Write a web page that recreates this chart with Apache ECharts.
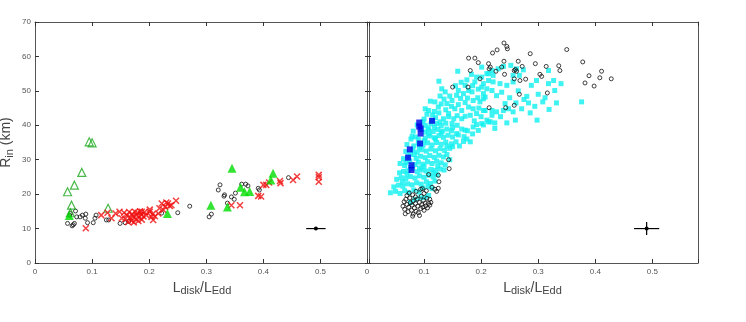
<!DOCTYPE html>
<html>
<head>
<meta charset="utf-8">
<script src="https://cdn.jsdelivr.net/npm/echarts@6/dist/echarts.min.js"></script>
<style>
  html, body { margin: 0; padding: 0; background: #fff; }
  #chart { width: 746px; height: 322px; }
</style>
</head>
<body>
<div id="chart"></div>
<script>
// x ticks / y ticks
var xTicks = [0, 0.1, 0.2, 0.3, 0.4, 0.5];
var yTicks = [0, 10, 20, 30, 40, 50, 60, 70];

// ---- left panel ----
var leftCircles = [
  [0.057,11.5],[0.061,13.9],[0.062,14.4],[0.065,10.8],[0.067,11.1],[0.069,11.5],[0.071,15.1],
  [0.073,13.4],[0.079,13.4],[0.083,13.9],[0.088,13.0],[0.089,14.2],[0.092,11.7],[0.102,11.7],
  [0.105,13.0],[0.107,13.9],[0.125,12.5],[0.129,12.5],[0.149,11.5],[0.158,11.7],[0.164,12.1],
  [0.222,14.5],[0.25,14.6],[0.271,16.5],[0.305,13.4],[0.309,14.2],[0.321,21.2],[0.324,22.7],
  [0.331,19.4],[0.332,19.8],[0.337,17.4],[0.344,19.2],[0.349,18.5],[0.351,20.3],[0.362,22.9],
  [0.369,22.9],[0.373,22.4],[0.391,21.7],[0.393,21.2],[0.444,24.8]
];
var leftCrosses = [
  [0.089,10.1],[0.116,13.9],[0.127,14.6],[0.134,13.0],[0.141,14.4],[0.148,14.9],[0.152,13.0],
  [0.156,14.6],[0.158,12.8],[0.161,13.9],[0.163,11.9],[0.165,14.8],[0.167,13.2],[0.169,12.3],
  [0.17,14.2],[0.172,13.6],[0.173,11.8],[0.175,14.9],[0.176,12.7],[0.178,13.9],[0.18,14.6],
  [0.181,12.2],[0.183,13.3],[0.184,15.0],[0.186,14.1],[0.187,12.6],[0.19,13.5],[0.192,14.8],
  [0.195,13.9],[0.187,14.9],[0.201,14.9],[0.201,15.5],[0.204,13.4],[0.207,12.5],[0.206,14.2],
  [0.21,13.6],[0.216,14.4],[0.218,15.9],[0.222,17.3],[0.225,15.4],[0.228,16.3],[0.23,17.6],
  [0.233,17.3],[0.236,16.6],[0.239,16.8],[0.247,18.1],
  [0.344,16.8],[0.359,16.8],[0.391,19.5],[0.396,19.3],[0.4,22.7],[0.405,22.7],[0.41,23.4],
  [0.429,23.8],[0.43,23.2],[0.452,24.1],[0.459,25.1],[0.497,25.6],[0.497,24.9],[0.497,23.6]
];
var leftOpenTri = [
  [0.057,20.7],[0.069,22.6],[0.082,26.3],[0.095,35.2],[0.1,34.9],[0.064,16.8],[0.128,15.9],[0.062,14.6]
];
var leftFilledTri = [
  [0.06,13.8],[0.232,14.4],[0.308,16.8],[0.337,16.3],[0.345,27.5],[0.36,22.0],[0.367,20.7],
  [0.376,20.8],[0.413,24.1],[0.417,26.1]
];
// [x, y, xerr, yerr]
var leftErr = [[0.492, 10, 0.017, 0.3]];

// ---- right panel ----
var rightCircles = [
  [0.24,63.9],[0.245,62.9],[0.246,62.2],[0.228,61.9],[0.22,61.0],[0.35,62.0],[0.286,60.8],
  [0.178,59.5],[0.189,59.5],[0.195,58.2],[0.213,57.9],[0.24,58.6],[0.265,58.6],[0.295,57.9],
  [0.314,57.1],[0.336,57.3],[0.338,55.9],[0.378,58.4],[0.411,55.7],[0.428,53.5],[0.389,54.4],
  [0.408,53.8],[0.382,52.3],[0.398,51.4],[0.181,55.9],[0.214,56.4],[0.216,56.9],[0.226,55.7],
  [0.236,56.9],[0.258,55.9],[0.262,55.7],[0.26,56.2],[0.272,57.1],[0.303,54.8],[0.306,54.2],
  [0.198,53.5],[0.241,54.8],[0.258,53.5],[0.268,53.0],[0.278,53.4],[0.15,51.1],[0.177,51.1],
  [0.267,49.0],[0.316,49.4],[0.214,45.1],[0.243,45.1],[0.258,45.8],[0.143,30.0],[0.144,27.4],
  [0.125,25.5],[0.108,25.7],[0.119,21.4],[0.125,21.7],[0.114,22.0],[0.094,21.4],[0.126,23.6],
  [0.122,20.8],
  [0.063,16.5],[0.065,17.8],[0.066,15.6],[0.068,18.5],[0.07,17.0],[0.072,14.9],[0.073,16.2],
  [0.075,18.9],[0.076,17.5],[0.078,15.3],[0.079,16.8],[0.081,14.2],[0.081,18.0],[0.083,16.0],
  [0.085,17.3],[0.086,15.0],[0.088,18.6],[0.089,16.5],[0.09,14.6],[0.092,17.6],[0.094,15.8],
  [0.095,19.4],[0.096,17.0],[0.098,16.2],[0.099,18.2],[0.1,15.3],[0.102,17.4],[0.103,16.6],
  [0.105,18.8],[0.106,16.0],[0.108,17.3],[0.11,16.8],[0.112,17.6],[0.07,19.6],[0.074,20.3],
  [0.08,19.8],[0.086,20.8],[0.1,20.2],[0.104,21.0],[0.092,13.8],[0.08,13.6],[0.067,14.3],
  [0.11,18.5],[0.097,21.6],[0.085,19.2]
];
var rightCyan = [
  [0.076,17.6],[0.084,18.4],[0.093,18.9],[0.101,19.0],[0.108,19.6],[0.041,20.4],[0.05,20.8],
  [0.058,20.2],[0.066,21.0],[0.073,20.5],[0.082,21.2],[0.091,20.6],[0.098,21.8],[0.107,22.2],
  [0.114,21.6],[0.047,22.1],[0.055,22.6],[0.063,22.3],[0.071,23.0],[0.079,22.7],[0.087,23.3],
  [0.095,22.9],[0.104,23.6],[0.111,23.1],[0.119,23.8],
  [0.052,24.3],[0.06,24.8],[0.068,24.5],[0.076,25.1],[0.084,24.7],[0.092,25.3],[0.1,24.9],
  [0.108,25.5],[0.116,25.0],[0.123,25.6],[0.057,26.2],[0.064,26.6],[0.072,26.8],[0.088,26.5],
  [0.096,27.0],[0.104,26.7],[0.112,27.2],[0.12,26.9],[0.128,27.3],
  [0.058,28.9],[0.066,28.3],[0.084,28.6],[0.09,29.3],[0.098,28.7],[0.106,29.4],[0.114,28.9],
  [0.122,29.6],[0.13,29.1],[0.137,28.5],[0.064,30.3],[0.072,30.9],[0.086,30.4],[0.094,31.0],
  [0.102,30.6],[0.11,31.2],[0.118,30.7],[0.126,31.3],[0.134,30.8],
  [0.068,32.4],[0.08,32.8],[0.088,32.2],[0.096,32.9],[0.104,32.5],[0.112,33.1],[0.12,32.6],
  [0.128,33.2],[0.136,32.7],[0.145,33.3],[0.07,34.4],[0.082,34.0],[0.09,34.8],[0.098,34.2],
  [0.106,34.9],[0.114,34.3],[0.122,35.0],[0.13,34.5],[0.138,35.1],[0.148,34.6],[0.156,35.2],
  [0.077,36.0],[0.085,36.6],[0.102,36.3],[0.11,36.9],[0.118,36.4],[0.126,37.0],[0.134,36.5],
  [0.142,37.1],[0.15,36.6],[0.16,37.2],[0.17,36.7],[0.181,35.2],[0.169,35.3],
  [0.081,38.3],[0.079,36.8],[0.102,38.0],[0.108,38.7],[0.116,38.2],[0.124,38.8],[0.132,38.3],
  [0.14,38.9],[0.148,38.4],[0.157,37.6],[0.166,38.9],[0.176,38.4],[0.186,39.5],[0.088,40.1],
  [0.102,40.0],[0.112,40.4],[0.122,40.5],[0.13,39.9],[0.138,40.6],[0.149,40.5],[0.158,40.0],
  [0.172,38.6],[0.192,40.2],[0.201,40.5],[0.204,40.1],
  [0.1,41.8],[0.114,41.4],[0.12,42.2],[0.134,41.9],[0.143,42.5],[0.152,41.9],[0.166,41.9],
  [0.181,42.9],[0.192,43.4],[0.213,41.0],[0.21,41.5],[0.216,41.0],[0.224,40.7],[0.245,40.7],
  [0.224,39.1],[0.105,43.2],[0.126,43.6],[0.143,43.4],[0.207,44.3],[0.219,42.9],[0.172,42.6],
  [0.102,44.8],[0.108,44.3],[0.125,45.3],[0.14,46.3],[0.149,47.2],[0.154,44.8],[0.166,44.3],
  [0.178,45.3],[0.186,47.2],[0.198,46.8],[0.119,46.8],[0.111,47.0],[0.204,44.3],[0.219,44.3],
  [0.227,43.9],[0.239,44.3],[0.256,43.9],[0.248,44.8],[0.242,46.3],[0.261,46.5],[0.271,44.8],
  [0.286,43.6],[0.298,41.5],[0.294,45.5],[0.319,44.6],[0.283,46.5],[0.308,46.8],[0.332,46.5],
  [0.376,46.8],[0.16,46.0],[0.13,46.2],[0.172,46.6],
  [0.157,48.7],[0.207,48.2],[0.137,49.7],[0.131,50.6],[0.16,50.1],[0.169,49.2],[0.178,50.1],
  [0.184,49.7],[0.172,51.6],[0.201,51.1],[0.189,52.6],[0.204,52.1],[0.21,50.6],[0.219,50.1],
  [0.204,49.2],[0.204,47.7],[0.28,48.4],[0.329,50.1],[0.221,52.6],[0.233,52.1],[0.245,51.6],
  [0.256,52.6],[0.288,51.6],[0.297,53.0],[0.318,52.1],[0.327,53.0],[0.34,52.1],[0.126,52.8],
  [0.145,48.5],[0.194,48.0],
  [0.159,55.7],[0.192,54.0],[0.21,55.0],[0.213,53.0],[0.219,55.9],[0.201,56.9],[0.201,54.0],
  [0.213,55.0],[0.221,54.5],[0.23,56.4],[0.239,57.1],[0.252,57.4],[0.256,54.5],[0.262,56.4],
  [0.274,56.1],[0.267,54.5],[0.318,55.9],[0.175,53.2],
  [0.062,23.5],[0.07,25.8],[0.08,27.5],[0.075,29.6],[0.083,31.5],[0.092,33.5],[0.1,35.5],
  [0.108,37.5],[0.118,39.5],[0.128,41.0],[0.138,44.5],[0.118,44.0],[0.128,48.5],[0.148,45.5],
  [0.158,42.8],[0.164,47.8],[0.176,47.9],[0.186,44.8],[0.196,45.0],[0.188,41.3],[0.2,42.5],
  [0.13,37.8],[0.15,39.3],[0.12,36.0],[0.14,34.0],[0.124,28.2],[0.116,26.2],[0.1,28.0],
  [0.092,27.6],[0.076,27.8],[0.068,29.2],[0.076,31.6],[0.09,36.0],[0.096,38.8],[0.107,39.2],
  [0.098,41.0],[0.115,43.0],[0.135,47.6],[0.155,51.5],[0.165,52.5],[0.185,51.5],[0.195,50.5],
  [0.183,54.8],[0.227,48.6],[0.236,49.6],[0.25,48.0],[0.265,50.0],[0.3,49.0],[0.312,48.0],
  [0.135,27.0],[0.14,31.5],[0.145,30.0],[0.15,33.8],[0.162,34.0],[0.175,36.0],[0.185,37.5],
  [0.195,38.5],[0.234,42.5],[0.26,41.5],[0.275,47.5]
];
var rightBlue = [
  [0.0915,40.8],[0.0915,39.6],[0.094,39.1],[0.114,41.3],[0.094,37.6],[0.093,34.7],
  [0.075,33.0],[0.072,30.6],[0.078,28.4],[0.078,27.0]
];
var rightErr = [[0.49, 10, 0.022, 1.9]];

var axisColor = '#555';
var crossPath = 'path://M0,0L10,10M10,0L0,10';

function xLabel(v) {
  var t = v * 10;
  return Math.abs(t - Math.round(t)) < 1e-6 ? String(Math.round(t) / 10) : '';
}

var xName = {
  name: '{m|L}{s|disk}{m|/L}{s|Edd}',
  nameLocation: 'middle',
  nameGap: 10,
  nameTextStyle: {
    rich: {
      m: { fontSize: 14, color: '#444', fontFamily: 'Liberation Sans', lineHeight: 18 },
      s: { fontSize: 11, color: '#444', fontFamily: 'Liberation Sans', lineHeight: 10, verticalAlign: 'bottom' }
    }
  }
};

function bottomX(gi, max) {
  return Object.assign({
    type: 'value', gridIndex: gi, min: 0, max: max, interval: 0.1, position: 'bottom',
    axisLine: { show: true, onZero: false, lineStyle: { color: axisColor, width: 1 } },
    axisTick: { show: true, inside: true, length: 4, lineStyle: { color: '#333' } },
    axisLabel: { color: '#555', fontSize: 8, margin: 5, fontFamily: 'Liberation Sans', formatter: xLabel },
    splitLine: { show: false }
  }, xName);
}
function topX(gi, max) {
  return {
    type: 'value', gridIndex: gi, min: 0, max: max, interval: 0.1, position: 'top',
    axisLine: { show: true, onZero: false, lineStyle: { color: axisColor, width: 1 } },
    axisTick: { show: true, inside: true, length: 4, lineStyle: { color: '#333' } },
    axisLabel: { show: false },
    splitLine: { show: false }
  };
}
function sideY(gi, pos, ticks, labels) {
  return {
    type: 'value', gridIndex: gi, min: 0, max: 70, interval: 10, position: pos,
    axisLine: { show: true, onZero: false, lineStyle: { color: axisColor, width: 1 } },
    axisTick: { show: ticks, inside: true, length: 4, lineStyle: { color: '#333' } },
    axisLabel: { show: labels, color: '#555', fontSize: 8, margin: 4, fontFamily: 'Liberation Sans' },
    splitLine: { show: false }
  };
}

function errRender(params, api) {
  var x = api.value(0), y = api.value(1), dx = api.value(2), dy = api.value(3);
  var l = api.coord([x - dx, y]), r = api.coord([x + dx, y]);
  var b = api.coord([x, y - dy]), t = api.coord([x, y + dy]);
  var c = api.coord([x, y]);
  var st = { stroke: '#000', lineWidth: 1.2 };
  return {
    type: 'group',
    children: [
      { type: 'line', shape: { x1: l[0], y1: l[1], x2: r[0], y2: r[1] }, style: st },
      { type: 'line', shape: { x1: b[0], y1: b[1], x2: t[0], y2: t[1] }, style: st },
      { type: 'circle', shape: { cx: c[0], cy: c[1], r: 2 }, style: { fill: '#000' } }
    ]
  };
}

var chart = echarts.init(document.getElementById('chart'), null, { renderer: 'canvas' });

var yName = {
  name: '{m|R}{s|in}{m| (km)}',
  nameLocation: 'middle',
  nameGap: 20,
  nameTextStyle: {
    rich: {
      m: { fontSize: 14, color: '#444', fontFamily: 'Liberation Sans', lineHeight: 18 },
      s: { fontSize: 11, color: '#444', fontFamily: 'Liberation Sans', lineHeight: 10, verticalAlign: 'bottom' }
    }
  }
};

var option = {
  backgroundColor: '#fff',
  animation: false,
  grid: [
    { left: 35, right: 377, top: 22, bottom: 59, outerBoundsMode: 'none' },
    { left: 367, right: 48, top: 22, bottom: 59, outerBoundsMode: 'none' }
  ],
  xAxis: [
    bottomX(0, 0.585), topX(0, 0.585),
    bottomX(1, 0.58), topX(1, 0.58)
  ],
  yAxis: [
    Object.assign(sideY(0, 'left', true, true), yName),
    sideY(0, 'right', true, false),
    sideY(1, 'left', true, false),
    sideY(1, 'right', false, false)
  ],
  series: [
    // left
    { type: 'scatter', xAxisIndex: 0, yAxisIndex: 0, data: leftCircles, symbol: 'circle', symbolSize: 4,
      itemStyle: { color: 'rgba(0,0,0,0)', borderColor: '#111', borderWidth: 1 } },
    { type: 'scatter', xAxisIndex: 0, yAxisIndex: 0, data: leftOpenTri, symbol: 'triangle', symbolSize: 8,
      itemStyle: { color: 'rgba(0,0,0,0)', borderColor: '#1aa81a', borderWidth: 1.2 } },
    { type: 'scatter', xAxisIndex: 0, yAxisIndex: 0, data: leftCrosses, symbol: crossPath, symbolSize: 6,
      itemStyle: { color: 'rgba(0,0,0,0)', borderColor: '#f01010', borderWidth: 1.5 } },
    { type: 'scatter', xAxisIndex: 0, yAxisIndex: 0, data: leftFilledTri, symbol: 'triangle', symbolSize: 9,
      itemStyle: { color: '#00dd00' } },
    { type: 'custom', xAxisIndex: 0, yAxisIndex: 0, data: leftErr, renderItem: errRender },
    // right
    { type: 'scatter', xAxisIndex: 2, yAxisIndex: 2, data: rightCyan, symbol: 'rect', symbolSize: 5,
      itemStyle: { color: '#10f0f0' } },
    { type: 'scatter', xAxisIndex: 2, yAxisIndex: 2, data: rightBlue, symbol: 'rect', symbolSize: 6,
      itemStyle: { color: '#0000e6' } },
    { type: 'scatter', xAxisIndex: 2, yAxisIndex: 2, data: rightCircles, symbol: 'circle', symbolSize: 4,
      itemStyle: { color: 'rgba(0,0,0,0)', borderColor: '#111', borderWidth: 1 } },
    { type: 'custom', xAxisIndex: 2, yAxisIndex: 2, data: rightErr, renderItem: errRender }
  ]
};
chart.setOption(option);
</script>
</body>
</html>
